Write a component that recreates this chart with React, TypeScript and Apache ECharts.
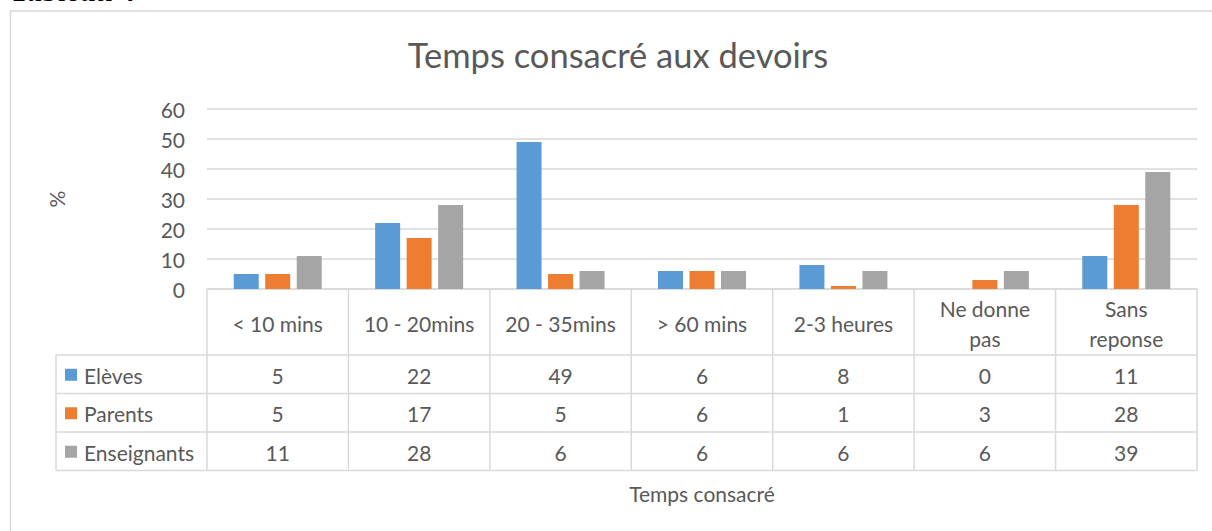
import React, { useEffect, useRef } from "react";
import * as echarts from "echarts";

const categories = ["< 10 mins", "10 - 20mins", "20 - 35mins", "> 60 mins", "2-3 heures", "Ne donne\npas", "Sans\nreponse"];
const seriesNames = ["Elèves", "Parents", "Enseignants"];
const eleves = [5, 22, 49, 6, 8, 0, 11];
const parents = [5, 17, 5, 6, 1, 3, 28];
const enseignants = [11, 28, 6, 6, 6, 6, 39];
const seriesValues = [eleves, parents, enseignants];
const colors = ["#5B9BD5", "#ED7D31", "#A5A5A5"];
const yMin = 0;
const yMax = 60;
const yInterval = 10;
const chartTitle = "Temps consacré aux devoirs";
const xTitle = "Temps consacré";
const yTitle = "%";
const caption = "Tableau 4";

const FONT = "Lato";
const TXT = "#595959";
const LINE = "#d9d9d9";
const BODY = 21;

export default function App() {
  const ref = useRef<HTMLDivElement>(null);
  useEffect(() => {
    if (!ref.current) return;
    const chart = echarts.init(ref.current, undefined, { renderer: "svg" });
    const plotLeft = 207, plotRight = 1197, plotTop = 109, plotBottom = 289;
    const option: any = {
      animation: false,
      backgroundColor: "#ffffff",
      title: {
        text: chartTitle,
        left: 613,
        top: 32,
        textAlign: "center",
        textStyle: { fontFamily: FONT, fontSize: 34.5, fontWeight: "normal", color: TXT },
      },
      grid: { left: plotLeft, right: 1212 - plotRight, top: plotTop, bottom: 531 - plotBottom, containLabel: false },
      xAxis: {
        type: "category",
        data: categories,
        axisLine: { show: true, lineStyle: { color: LINE, width: 1.5 } },
        axisTick: { show: false },
        axisLabel: { show: false },
      },
      yAxis: {
        type: "value",
        min: yMin,
        max: yMax,
        interval: yInterval,
        name: yTitle,
        nameLocation: "middle",
        nameRotate: 90,
        nameGap: 140,
        nameTextStyle: { fontFamily: FONT, fontSize: BODY, color: TXT },
        axisLine: { show: false },
        axisTick: { show: false },
        axisLabel: { fontFamily: FONT, fontSize: BODY, color: TXT, margin: 22 },
        splitLine: { lineStyle: { color: LINE, width: 1.5 } },
      },
      series: seriesNames.map((n, i) => ({
        type: "bar",
        name: n,
        data: seriesValues[i],
        barWidth: 25,
        barGap: "26%",
        itemStyle: { color: colors[i] },
      })),
    };
    chart.setOption(option);

    // Table built from the axis scale
    const band = (plotRight - plotLeft) / categories.length;
    const centers = categories.map((_, i) => chart.convertToPixel({ xAxisIndex: 0 }, i) as number);
    const tableLeft = 56;
    const headerBottom = 355;
    const rowH = 38.5;
    const rowsBottom = headerBottom + rowH * seriesNames.length;
    const g: any[] = [];
    g.push({
      type: "rect",
      shape: { x: 10.5, y: 11, width: 1240, height: 560 },
      style: { fill: "none", stroke: LINE, lineWidth: 1.5 },
      silent: true,
    });
    g.push({
      type: "text",
      x: 11,
      y: 6,
      style: { text: caption, font: "italic bold 31px 'Liberation Serif'", fill: "#000", verticalAlign: "bottom" },
    });
    const lineStyle = { stroke: LINE, lineWidth: 1.5 };
    for (let r = 0; r <= seriesNames.length; r++) {
      const y = headerBottom + rowH * r;
      g.push({ type: "line", shape: { x1: tableLeft, y1: y, x2: plotRight, y2: y }, style: lineStyle });
    }
    g.push({ type: "line", shape: { x1: tableLeft, y1: headerBottom, x2: tableLeft, y2: rowsBottom }, style: lineStyle });
    const bounds = centers.map((c) => c - band / 2).concat([centers[centers.length - 1] + band / 2]);
    bounds.forEach((x) => {
      g.push({ type: "line", shape: { x1: x, y1: plotBottom, x2: x, y2: rowsBottom }, style: lineStyle });
    });
    categories.forEach((c, i) => {
      g.push({
        type: "text",
        x: centers[i],
        y: (plotBottom + headerBottom) / 2 + 1,
        style: { text: c, fontFamily: FONT, fontSize: BODY, fill: TXT, align: "center", verticalAlign: "middle", lineHeight: 30 },
      });
    });
    seriesNames.forEach((n, r) => {
      const cy = headerBottom + rowH * r + rowH / 2 + 1;
      g.push({ type: "rect", shape: { x: 65, y: cy - 6.5, width: 12, height: 12 }, style: { fill: colors[r] } });
      g.push({
        type: "text",
        x: 84,
        y: cy,
        style: { text: n, fontFamily: FONT, fontSize: BODY, fill: TXT, align: "left", verticalAlign: "middle" },
      });
      seriesValues[r].forEach((v, i) => {
        g.push({
          type: "text",
          x: centers[i],
          y: cy,
          style: { text: String(v), fontFamily: FONT, fontSize: BODY, fill: TXT, align: "center", verticalAlign: "middle" },
        });
      });
    });
    g.push({
      type: "text",
      x: (plotLeft + plotRight) / 2,
      y: 493,
      style: { text: xTitle, fontFamily: FONT, fontSize: BODY, fill: TXT, align: "center", verticalAlign: "middle" },
    });
    chart.setOption({ graphic: g });
    return () => chart.dispose();
  }, []);
  return <div ref={ref} style={{ position: "absolute", left: 0, top: 0, width: 1212, height: 531 }} />;
}
